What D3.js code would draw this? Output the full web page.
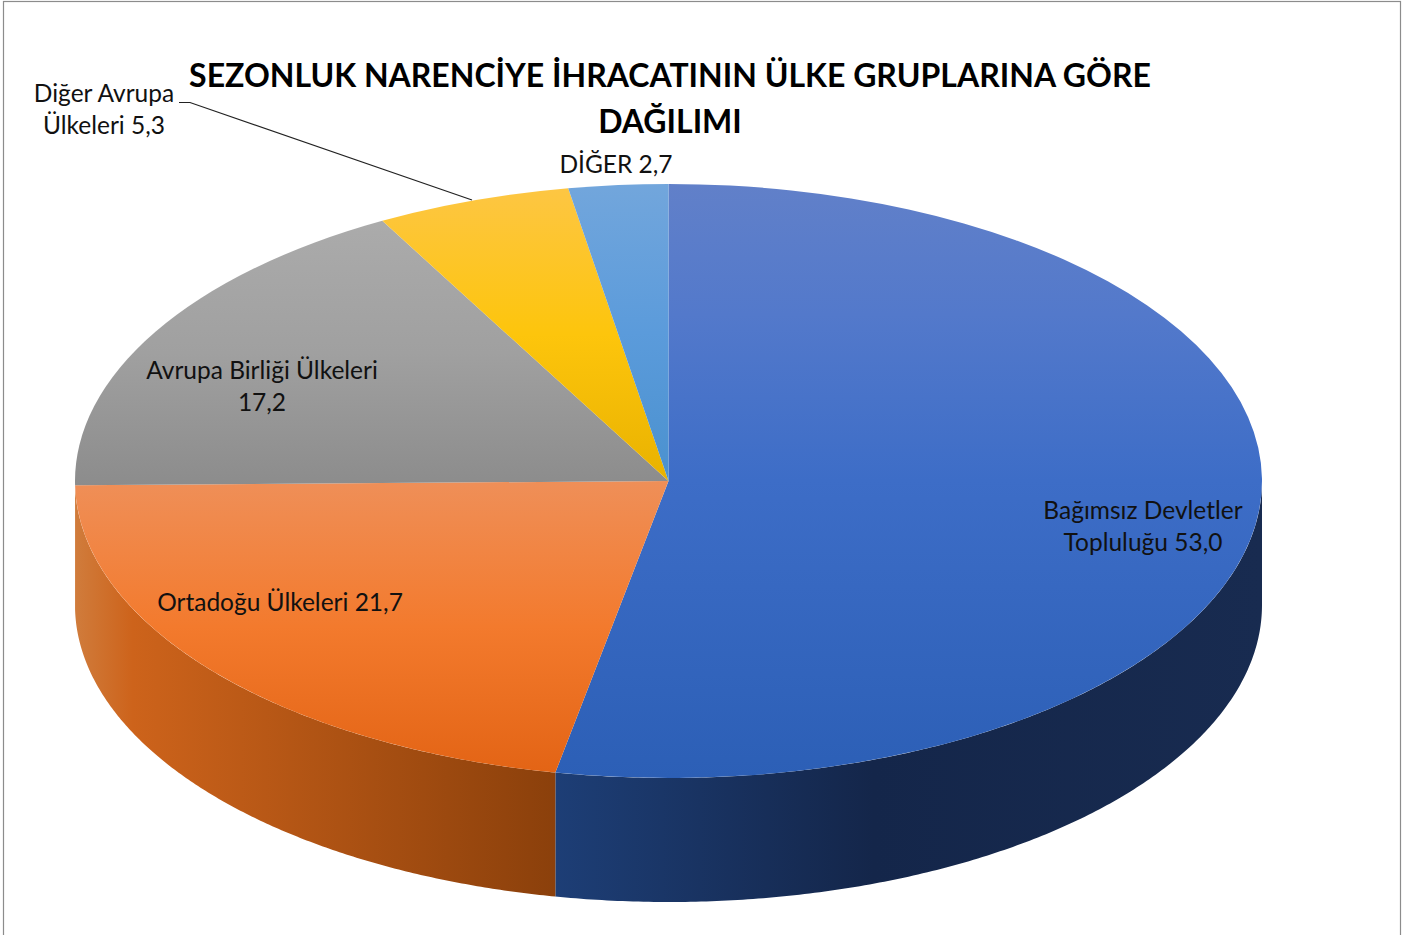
<!DOCTYPE html>
<html lang="tr"><head><meta charset="utf-8">
<script src="https://cdn.jsdelivr.net/npm/d3@7"></script>
<style>html,body{margin:0;padding:0;background:#fff;overflow:hidden}svg{display:block}text{font-family:Lato,"Open Sans",sans-serif;fill:#111}</style>
</head><body><div id="c"></div>
<script>
const categories = ["Bağımsız Devletler Topluluğu","Ortadoğu Ülkeleri","Avrupa Birliği Ülkeleri","Diğer Avrupa Ülkeleri","DİĞER"];
const values = [53.0,21.7,17.2,5.3,2.7];
const titleLines = ["SEZONLUK NARENCİYE İHRACATININ ÜLKE GRUPLARINA GÖRE","DAĞILIMI"];
const labelLines = [["Bağımsız Devletler","Topluluğu 53,0"],["Ortadoğu Ülkeleri 21,7"],["Avrupa Birliği Ülkeleri","17,2"],["Diğer Avrupa","Ülkeleri 5,3"],["DİĞER 2,7"]];
const topColors = [
  [[0,"#6180c9"],[0.22,"#5379cb"],[0.5,"#3d6dc7"],[1,"#2c5fb6"]],
  [[0,"#ef8f58"],[0.5,"#f37a2d"],[1,"#e36415"]],
  [[0,"#ababab"],[0.5,"#a0a0a0"],[1,"#8c8c8c"]],
  [[0,"#fdc643"],[0.5,"#fdc50c"],[1,"#e9b200"]],
  [[0,"#72a6dc"],[0.5,"#5b9bdb"],[1,"#4a91cf"]]
];
const sideStops = [[[0,"#1d3e76"],[0.45,"#14264a"],[1,"#182b50"]],[[0,"#d07c3c"],[0.12,"#cd631b"],[1,"#8b400b"]]];

const W=1408,H=935,cx=668.5,cy=481,rx=593.5,ry=297,depth=124;
const svg=d3.select("#c").append("svg").attr("width",W).attr("height",H);
const defs=svg.append("defs");
svg.append("rect").attr("x",3.5).attr("y",1.5).attr("width",1397).attr("height",H+20).attr("fill","#fff").attr("stroke","#8c8c8c").attr("stroke-width",1.2);

const arcs=d3.pie().sort(null).value(d=>d)(values);
const px=t=>cx+rx*Math.sin(t), py=t=>cy-ry*Math.cos(t);
const line=d3.line();

// side walls (front half only)
arcs.forEach((a,i)=>{
  const s=Math.max(a.startAngle,Math.PI/2), e=Math.min(a.endAngle,Math.PI*1.5);
  if(e<=s||!sideStops[i])return;
  const n=200, ts=d3.range(n+1).map(k=>s+(e-s)*k/n);
  const pts=ts.map(t=>[px(t),py(t)]).concat(ts.slice().reverse().map(t=>[px(t),py(t)+depth]));
  const [x0,x1]=d3.extent(pts,p=>p[0]);
  const g=defs.append("linearGradient").attr("id","side"+i).attr("gradientUnits","userSpaceOnUse")
    .attr("x1",x0).attr("x2",x1).attr("y1",0).attr("y2",0);
  sideStops[i].forEach(st=>g.append("stop").attr("offset",st[0]).attr("stop-color",st[1]));
  svg.append("path").attr("d",line(pts)+"Z").attr("fill",`url(#side${i})`);
});

// top faces
const arc=d3.arc().innerRadius(0).outerRadius(rx);
const faces=svg.append("g").attr("transform",`translate(${cx},${cy}) scale(1,${ry/rx})`);
arcs.forEach((a,i)=>{
  const ys=[cy,...d3.range(41).map(k=>py(a.startAngle+(a.endAngle-a.startAngle)*k/40))];
  const [y0,y1]=d3.extent(ys);
  const g=defs.append("linearGradient").attr("id","top"+i).attr("gradientUnits","userSpaceOnUse")
    .attr("x1",0).attr("x2",0).attr("y1",(y0-cy)*rx/ry).attr("y2",(y1-cy)*rx/ry);
  topColors[i].forEach(st=>g.append("stop").attr("offset",st[0]).attr("stop-color",st[1]));
  faces.append("path").attr("d",arc(a)).attr("fill",`url(#top${i})`);
});

// leader line
svg.append("polyline").attr("points","179,102.5 190,102.5 472,200").attr("fill","none").attr("stroke","#222").attr("stroke-width",1.2);

// labels
const labelPos=[[1143,519],[280,611],[262,379],[104,102],[616,173]];
labelLines.forEach((ls,i)=>ls.forEach((s,j)=>{
  svg.append("text").attr("x",labelPos[i][0]).attr("y",labelPos[i][1]+j*32).attr("text-anchor","middle").attr("font-size",24.5).text(s);
}));
titleLines.forEach((s,j)=>svg.append("text").attr("x",670).attr("y",87+j*46).attr("text-anchor","middle")
  .attr("font-size",32).attr("font-weight",700).style("fill","#000").text(s));
</script></body></html>
